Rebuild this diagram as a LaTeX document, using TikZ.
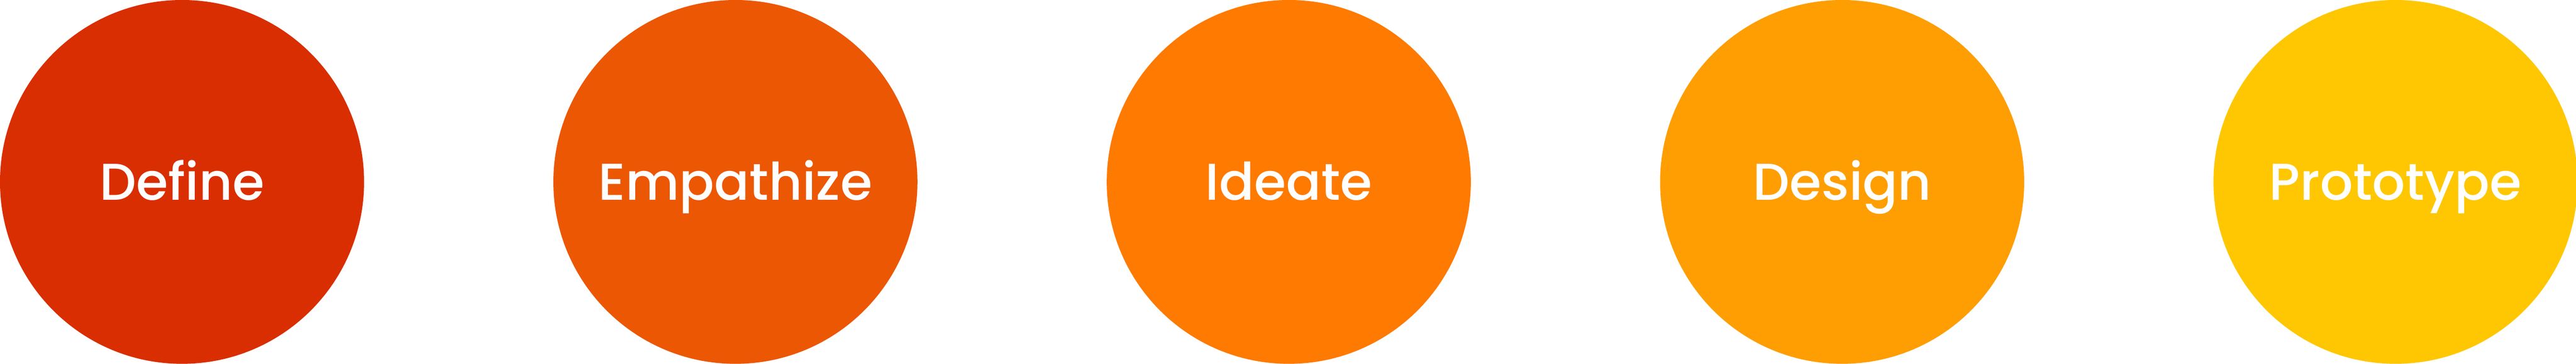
\documentclass[tikz,border=0pt]{standalone}
\usepackage{fontspec}
\setmainfont{Poppins}[UprightFont=* Medium]
\usepackage{tikz}
\usepackage{xcolor}
\usetikzlibrary{positioning}
\definecolor{cDefine}{RGB}{217,46,2}
\definecolor{cEmpathize}{RGB}{236,87,4}
\definecolor{cIdeate}{RGB}{255,122,0}
\definecolor{cDesign}{RGB}{255,158,3}
\definecolor{cPrototype}{RGB}{255,199,2}
\tikzset{%
	phase/.style = {circle, inner sep=0pt, minimum size=7.17cm, text=white, font=\fontsize{29}{34}\selectfont, text height=0.72cm, text depth=0pt}, % Stage
}

\begin{document}
\begin{tikzpicture}[node distance = 10.8975cm]
	\useasboundingbox (0,0) rectangle (50.73,7.17);
	\node[phase, fill=cDefine] (define) at (3.585,3.585) {Define};
	\node[phase, fill=cEmpathize, right of=define] (empathize) {Empathize};
	\node[phase, fill=cIdeate, right of=empathize] (ideate) {Ideate};
	\node[phase, fill=cDesign, right of=ideate] (design) {Design};
	\node[phase, fill=cPrototype, right of=design] (prototype) {Prototype};
\end{tikzpicture}
\end{document}
